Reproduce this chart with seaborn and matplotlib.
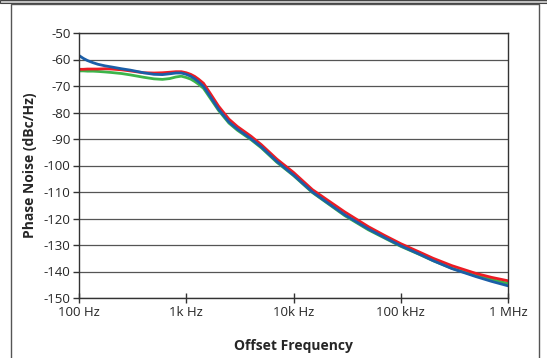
import numpy as np
import pandas as pd
import matplotlib
matplotlib.use("Agg")
import matplotlib.pyplot as plt
import seaborn as sns

freq = [100, 110, 120, 135, 150, 175, 200, 250, 300, 400, 500, 600, 700, 800,
        900, 1000, 1100, 1200, 1300, 1450, 1700, 2000, 2500, 3000, 4000, 5000,
        7000, 10000, 15000, 20000, 30000, 50000, 70000, 100000, 150000, 200000,
        300000, 500000, 700000, 1000000]

green = [-64.3, -64.3, -64.4, -64.4, -64.5, -64.7, -64.9, -65.3, -65.8, -66.7,
         -67.3, -67.5, -67.2, -66.6, -66.3, -66.8, -67.4, -68.3, -69.3, -70.9,
         -75.0, -79.2, -84.0, -86.7, -90.2, -93.3, -98.8, -103.8, -110.2,
         -113.8, -118.9, -124.3, -127.3, -130.5, -133.6, -135.9, -138.8,
         -141.6, -143.0, -144.5]

red = [-63.7, -63.7, -63.6, -63.6, -63.6, -63.5, -63.6, -63.9, -64.3, -65.0,
       -65.1, -65.0, -64.8, -64.6, -64.6, -65.0, -65.6, -66.4, -67.4, -69.0,
       -73.2, -77.6, -82.5, -85.3, -88.9, -92.1, -97.6, -102.6, -109.1,
       -112.6, -117.5, -123.1, -126.3, -129.5, -132.7, -135.0, -137.8,
       -140.7, -142.2, -143.5]

blue = [-58.5, -59.6, -60.4, -61.2, -61.8, -62.4, -62.8, -63.5, -64.0, -65.0,
        -65.6, -65.7, -65.4, -65.1, -65.1, -65.6, -66.3, -67.3, -68.4, -70.2,
        -74.4, -78.8, -83.6, -86.3, -89.9, -93.0, -98.5, -103.6, -110.0,
        -113.6, -118.6, -124.0, -127.1, -130.3, -133.5, -135.9, -138.9,
        -141.9, -143.7, -145.4]

x_ticks = [100, 1000, 10000, 100000, 1000000]
x_labels = ["100 Hz", "1k Hz", "10k Hz", "100 kHz", "1 MHz"]
y_ticks = list(range(-150, -49, 10))

df = pd.DataFrame({
    "freq": freq * 3,
    "noise": green + red + blue,
    "trace": ["green"] * len(freq) + ["red"] * len(freq) + ["blue"] * len(freq),
})
palette = {"green": "#3db54a", "red": "#ec1c24", "blue": "#1b5ea8"}

sns.set_style("white")
plt.rcParams["font.family"] = ["Open Sans", "DejaVu Sans"]
plt.rcParams["axes.unicode_minus"] = False

fig = plt.figure(figsize=(5.47, 3.58), dpi=100)

# outer frame + top strip
fig.patches.append(plt.Rectangle((0, 1 - 3 / 358), 1, 3 / 358, transform=fig.transFigure,
                                 facecolor="#c8c8c8", edgecolor="#444444", linewidth=0.8))
fig.patches.append(plt.Rectangle((11 / 547, -0.05), 528 / 547, 1.05 - 4.5 / 358,
                                 transform=fig.transFigure, facecolor="none",
                                 edgecolor="#555555", linewidth=1.0))

ax = fig.add_axes([79 / 547, 1 - 298 / 358, 429 / 547, 265 / 358])
sns.lineplot(data=df, x="freq", y="noise", hue="trace", palette=palette,
             linewidth=2.0, legend=False, ax=ax)
for line in ax.lines:
    line.set_solid_joinstyle("round")

ax.set_xscale("log")
ax.set_xlim(100, 1000000)
ax.set_ylim(-150, -50)
ax.set_xticks(x_ticks)
ax.set_xticklabels(x_labels)
ax.xaxis.set_minor_locator(matplotlib.ticker.NullLocator())
ax.set_yticks(y_ticks)
ax.grid(axis="y", color="#555555", linewidth=0.9)
ax.set_axisbelow(True)
for s in ax.spines.values():
    s.set_color("#333333")
    s.set_linewidth(1.0)
ax.tick_params(axis="x", direction="inout", length=7, width=1, color="#333333",
               labelsize=9.5, pad=2, bottom=True)
ax.tick_params(axis="y", direction="out", length=4, width=1, color="#333333",
               labelsize=9.5, pad=2, left=True)
ax.set_xlabel("Offset Frequency", fontsize=10, fontweight="bold", labelpad=15)
ax.set_ylabel("Phase Noise (dBc/Hz)", fontsize=10, fontweight="bold", labelpad=5)

fig.savefig("out.png", dpi=100)
